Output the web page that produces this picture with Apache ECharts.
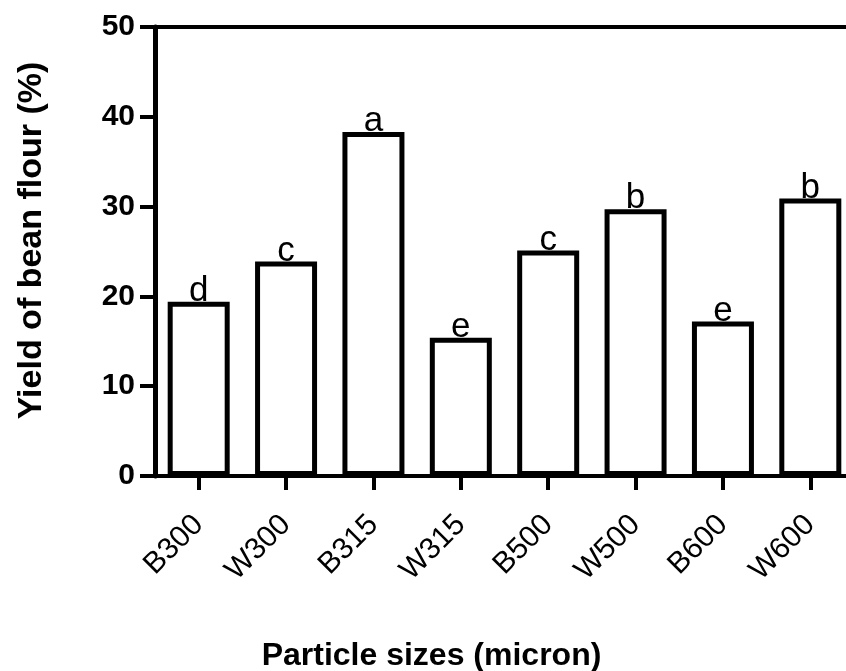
<!DOCTYPE html>
<html>
<head>
<meta charset="utf-8">
<script src="https://cdn.jsdelivr.net/npm/echarts@6/dist/echarts.min.js"></script>
<style>
  html, body { margin: 0; padding: 0; background: #fff; }
  #main { width: 846px; height: 671px; }
</style>
</head>
<body>
<div id="main"></div>
<script>
// particle size groups
var categories = ["B300", "W300", "B315", "W315", "B500", "W500", "B600", "W600"];
// yield of bean flour (%)
var yieldValues = [19.4, 23.9, 38.3, 15.4, 25.1, 29.7, 17.2, 30.9];
// significance letters
var letters = ["d", "c", "a", "e", "c", "b", "e", "b"];
var yTicks = [0, 10, 20, 30, 40, 50];

var font = "'Liberation Sans', Arial, sans-serif";
var myChart = echarts.init(document.getElementById("main"));

var option = {
  backgroundColor: "#fff",
  animation: false,
  // plot runs a little past the right edge, like the cropped original
  grid: { left: 155, top: 27, width: 699, height: 449, outerBoundsMode: "none", containLabel: false },
  xAxis: [
    {
      type: "category",
      data: categories,
      axisLine: { show: true, lineStyle: { color: "#000", width: 4 } },
      axisTick: {
        show: true,
        alignWithLabel: true,
        length: 14,
        lineStyle: { color: "#000", width: 4 }
      },
      axisLabel: {
        rotate: 45,
        margin: 44,
        color: "#000",
        fontSize: 30,
        fontFamily: font
      },
      name: "Particle sizes (micron)",
      nameLocation: "middle",
      nameGap: 164,
      nameTextStyle: {
        color: "#000",
        fontSize: 32,
        fontWeight: "bold",
        fontFamily: font,
        padding: [0, 146, 0, 0]
      }
    },
    {
      // top frame line
      type: "category",
      position: "top",
      data: categories,
      axisLine: { show: true, lineStyle: { color: "#000", width: 4 } },
      axisTick: { show: false },
      axisLabel: { show: false }
    }
  ],
  yAxis: {
    type: "value",
    min: 0,
    max: 50,
    interval: 10,
    axisLine: { show: true, lineStyle: { color: "#000", width: 5 } },
    axisTick: { show: true, length: 15, lineStyle: { color: "#000", width: 4 } },
    splitLine: { show: false },
    axisLabel: {
      margin: 20,
      color: "#000",
      fontSize: 30,
      fontWeight: "bold",
      fontFamily: font,
      formatter: function (v) { return yTicks.indexOf(v) >= 0 ? String(v) : ""; }
    },
    name: "Yield of bean flour (%)",
    nameLocation: "middle",
    nameGap: 106,
    nameRotate: 90,
    nameTextStyle: {
      color: "#000",
      fontSize: 34,
      fontWeight: "bold",
      fontFamily: font,
      padding: [0, 0, 0, 22]
    }
  },
  series: [
    {
      type: "bar",
      data: yieldValues,
      barWidth: 62,
      itemStyle: { color: "#fff", borderColor: "#000", borderWidth: 5 },
      label: {
        show: true,
        position: "top",
        distance: -7,
        color: "#000",
        fontSize: 35,
        fontFamily: font,
        formatter: function (p) { return letters[p.dataIndex]; }
      }
    }
  ]
};
myChart.setOption(option);
</script>
</body>
</html>
